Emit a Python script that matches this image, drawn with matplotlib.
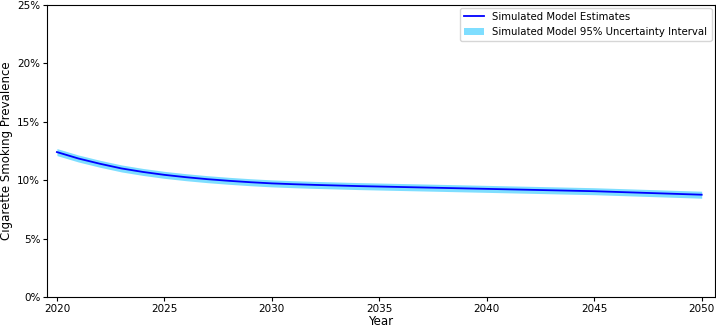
import matplotlib
matplotlib.use("Agg")
import matplotlib.pyplot as plt
from matplotlib.ticker import PercentFormatter

years = list(range(2020, 2051))
prevalence = [12.4, 11.85, 11.4, 11.0, 10.7, 10.45, 10.25, 10.08, 9.94, 9.82,
              9.72, 9.65, 9.59, 9.54, 9.49, 9.45, 9.41, 9.37, 9.33, 9.29,
              9.25, 9.21, 9.17, 9.13, 9.09, 9.05, 8.99, 8.93, 8.87, 8.81, 8.75]
lower = [12.1, 11.55, 11.1, 10.7, 10.4, 10.15, 9.95, 9.78, 9.64, 9.52,
         9.42, 9.35, 9.29, 9.24, 9.19, 9.15, 9.11, 9.07, 9.03, 8.99,
         8.95, 8.91, 8.87, 8.83, 8.79, 8.75, 8.69, 8.63, 8.57, 8.51, 8.45]
upper = [12.7, 12.15, 11.7, 11.3, 11.0, 10.75, 10.55, 10.38, 10.24, 10.12,
         10.02, 9.95, 9.89, 9.84, 9.79, 9.75, 9.71, 9.67, 9.63, 9.59,
         9.55, 9.51, 9.47, 9.43, 9.39, 9.35, 9.29, 9.23, 9.17, 9.11, 9.05]

fig = plt.figure(figsize=(7.16, 3.27), dpi=100)
ax = fig.add_axes([0.066, 0.092, 0.932, 0.893])

ax.fill_between(years, lower, upper, color='deepskyblue', alpha=0.5, linewidth=0,
                label='Simulated Model 95% Uncertainty Interval')
ax.plot(years, prevalence, color='blue', linewidth=1.3, label='Simulated Model Estimates')

ax.set_ylim(0, 25)
ax.set_xlim(2019.55, 2050.6)
ax.set_xticks(range(2020, 2051, 5))
ax.yaxis.set_major_formatter(PercentFormatter(decimals=0))
ax.tick_params(labelsize=7.5, length=3, pad=2)
ax.set_xlabel("Year", fontsize=8.5, labelpad=1)
ax.set_ylabel("Cigarette Smoking Prevalence", fontsize=8.5, labelpad=3)

handles, labels = ax.get_legend_handles_labels()
ax.legend(handles[::-1], labels[::-1], loc='upper right', fontsize=7.3,
          borderaxespad=0.3)

fig.savefig("out.png", dpi=100)
